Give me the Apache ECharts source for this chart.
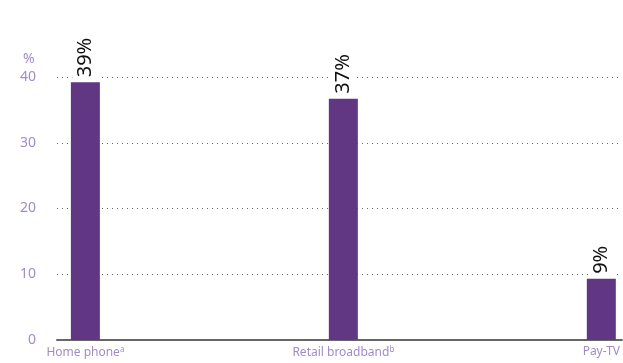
<!DOCTYPE html>
<html><head><meta charset="utf-8">
<script src="https://cdn.jsdelivr.net/npm/echarts@6/dist/echarts.min.js"></script>
<style>html,body{margin:0;padding:0;background:#fff}#c{width:623px;height:363px}</style>
</head><body><div id="c"></div>
<script>
const categories = ['Home phone', 'Retail broadband', 'Pay-TV'];
const superscripts = ['a', 'b', ''];
const values = [39.2, 36.7, 9.3];
const labels = ['39%', '37%', '9%'];
const yTicks = [0, 10, 20, 30, 40];

const FONT = 'Noto Sans';
const LABEL_COLOR = '#a28bc8';
const chart = echarts.init(document.getElementById('c'), null, {renderer: 'canvas'});
chart.setOption({
  animation: false,
  grid: {left: 57, right: 0, top: 77, bottom: 23, containLabel: false},
  xAxis: {
    type: 'value', min: -0.11, max: 2.08,
    splitLine: {show: false},
    axisLine: {show: true, onZero: false, lineStyle: {color: '#666', width: 2}},
    axisTick: {show: false},
    axisLabel: {
      customValues: categories.map((c, i) => i),
      margin: 6,
      fontFamily: FONT, fontSize: 12, color: LABEL_COLOR,
      formatter: v => {
        const i = Math.round(v);
        return categories[i] + (superscripts[i] ? '{sup|' + superscripts[i] + '}' : '');
      },
      rich: {sup: {fontSize: 8, verticalAlign: 'top', color: LABEL_COLOR, fontFamily: FONT, padding: [0, 0, 6, 0]}}
    }
  },
  yAxis: {
    type: 'value', min: 0, max: 40, interval: 10,
    axisLine: {show: false}, axisTick: {show: false},
    axisLabel: {margin: 21, fontFamily: FONT, fontSize: 14, color: LABEL_COLOR,
      formatter: v => yTicks.includes(v) ? String(v) : ''},
    splitLine: {show: true, lineStyle: {color: '#666', type: [1, 4], width: 1}}
  },
  graphic: [{type: 'text', left: 23, top: 52, style: {text: '%', fontFamily: FONT, fontSize: 14, fill: LABEL_COLOR}}],
  series: [{
    type: 'bar', barWidth: 29,
    data: values.map((v, i) => [i, v]),
    itemStyle: {color: '#613683'},
    label: {
      show: true, position: 'top', rotate: 90, align: 'left', verticalAlign: 'middle', distance: 3,
      fontFamily: FONT, fontSize: 20, color: '#111',
      backgroundColor: '#fff', padding: [3, 2, 3, 2],
      formatter: p => labels[p.dataIndex]
    },
    z: 2
  }]
});
</script></body></html>
